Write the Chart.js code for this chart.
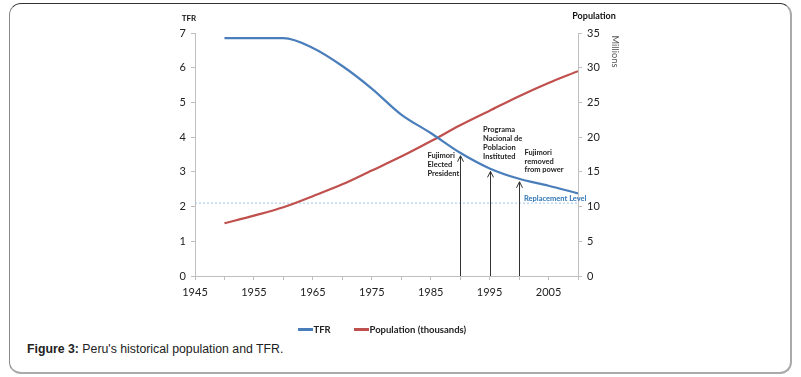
<!DOCTYPE html>
<html>
<head>
<meta charset="utf-8">
<script src="https://cdn.jsdelivr.net/npm/chart.js@4.4.1/dist/chart.umd.min.js"></script>
<style>
  html, body { margin: 0; padding: 0; background: #fff; }
  body { width: 801px; height: 377px; position: relative; overflow: hidden; }
  #frame {
    position: absolute; left: 9px; top: 3px; width: 780px; height: 368px;
    border-top: 1px solid #333; border-left: 1px solid #888;
    border-right: 2px solid #aaa; border-bottom: 2px solid #aaa;
    border-radius: 12px; box-sizing: content-box;
  }
  #caption {
    position: absolute; left: 27px; top: 342px;
    font-family: "Liberation Sans", Arial, sans-serif; font-size: 12.3px; color: #222;
  }
  #c { position: absolute; left: 0; top: 0; }
</style>
</head>
<body>
<div id="frame"></div>
<div id="caption"><b>Figure 3:</b> Peru's historical population and TFR.</div>
<canvas id="c" width="801" height="377"></canvas>
<script>
// ---- data ----
const YEARS = [1950, 1955, 1960, 1965, 1970, 1975, 1980, 1985, 1990, 1995, 2000, 2005, 2010];
const TFR = [6.85, 6.85, 6.85, 6.57, 6.05, 5.40, 4.65, 4.12, 3.55, 3.10, 2.80, 2.60, 2.38];
const POPULATION_MILLIONS = [7.6, 8.7, 9.9, 11.5, 13.2, 15.2, 17.2, 19.4, 21.7, 23.8, 25.9, 27.8, 29.5];
const REPLACEMENT_LEVEL = 2.1;
const X_RANGE = [1945, 2010];
const EVENT_YEARS = [1990, 1995, 2000];
const EVENT_LABELS = [
  ["Fujimori", "Elected", "President"],
  ["Programa", "Nacional de", "Poblacion", "Instituted"],
  ["Fujimori", "removed", "from power"]
];
const SERIES_NAMES = ["TFR", "Population (thousands)"];

// ---- styles ----
const BLUE = "#4a7ebb", RED = "#c0504d";
const FONT = "Lato, 'Open Sans', sans-serif";
const AXIS_GRAY = "#bfbfbf";
const eventTextOffsets = [{dx: -33, y: 156}, {dx: -7.5, y: 130}, {dx: 5, y: 152.5}];

const pts = (vals) => YEARS.map((y, i) => ({x: y, y: vals[i]}));

const annotate = {
  id: "annotate",
  afterDatasetsDraw(chart) {
    const ctx = chart.ctx;
    const xs = chart.scales.x, yl = chart.scales.y;
    ctx.save();
    // arrows
    ctx.strokeStyle = "#333"; ctx.lineWidth = 1;
    EVENT_YEARS.forEach((yr0, i) => {
      const idx = YEARS.indexOf(yr0);
      const x = Math.round(xs.getPixelForValue(yr0)) + 0.5;
      const yb = yl.getPixelForValue(0);
      const yt = yl.getPixelForValue(TFR[idx]) + 3;
      ctx.beginPath(); ctx.moveTo(x, yb); ctx.lineTo(x, yt); ctx.stroke();
      ctx.beginPath(); ctx.moveTo(x - 3, yt + 6); ctx.lineTo(x, yt); ctx.lineTo(x + 3, yt + 6); ctx.stroke();
      // labels
      ctx.fillStyle = "#222"; ctx.font = "bold 7.5px " + FONT;
      ctx.textAlign = "left"; ctx.textBaseline = "middle";
      const o = eventTextOffsets[i];
      EVENT_LABELS[i].forEach((t, k) => ctx.fillText(t, x + o.dx, o.y + k * 8.7));
    });
    // replacement label
    ctx.fillStyle = "#2e75b6"; ctx.font = "bold 7.5px " + FONT;
    ctx.textAlign = "left"; ctx.textBaseline = "middle";
    ctx.fillText("Replacement Level", 524, 198.5);
    // axis titles
    ctx.fillStyle = "#111"; ctx.font = "bold 8px " + FONT; ctx.textAlign = "center";
    ctx.fillText("TFR", 189, 18);
    ctx.font = "bold 9px " + FONT;
    ctx.fillText("Population", 594, 16);
    ctx.save();
    ctx.translate(615, 51.5); ctx.rotate(Math.PI / 2);
    ctx.fillStyle = "#555"; ctx.font = "9.3px " + FONT;
    ctx.fillText("Millions", 0, 0);
    ctx.restore();
    // legend
    const leg = [{x: 298, c: BLUE}, {x: 354, c: RED}];
    ctx.font = "bold 9.5px " + FONT; ctx.textAlign = "left"; ctx.fillStyle = "#222";
    leg.forEach((l, i) => {
      ctx.strokeStyle = chart.data.datasets[i].borderColor; ctx.lineWidth = 3;
      ctx.beginPath(); ctx.moveTo(l.x, 329.5); ctx.lineTo(l.x + 15, 329.5); ctx.stroke();
      ctx.fillText(chart.data.datasets[i].label, l.x + 15.5, 329.5);
    });
    ctx.restore();
  }
};

new Chart(document.getElementById("c"), {
  type: "line",
  data: {
    datasets: [
      {label: SERIES_NAMES[0], data: pts(TFR), yAxisID: "y", borderColor: BLUE, borderWidth: 2.2,
       pointRadius: 0, tension: 0.3, cubicInterpolationMode: "monotone"},
      {label: SERIES_NAMES[1], data: pts(POPULATION_MILLIONS), yAxisID: "y1", borderColor: RED, borderWidth: 2.2,
       pointRadius: 0, tension: 0.3, cubicInterpolationMode: "monotone"},
      {label: "Replacement Level", data: [{x: X_RANGE[0], y: REPLACEMENT_LEVEL}, {x: X_RANGE[1], y: REPLACEMENT_LEVEL}],
       yAxisID: "y", borderColor: "#9dc3e6", borderWidth: 1, borderDash: [2, 2], pointRadius: 0}
    ]
  },
  options: {
    responsive: false, animation: false,
    layout: {padding: {left: 150, right: 178, top: 33, bottom: 71}},
    plugins: {legend: {display: false}, tooltip: {enabled: false}},
    scales: {
      x: {
        type: "linear", min: X_RANGE[0], max: X_RANGE[1],
        afterFit: s => { s.height = 30; },
        border: {color: AXIS_GRAY},
        grid: {drawOnChartArea: false, tickLength: 4, color: AXIS_GRAY},
        ticks: {stepSize: 5, padding: 6, maxRotation: 0, autoSkip: false, color: "#222",
                font: {family: FONT, size: 11},
                callback: v => ((v - X_RANGE[0]) % 10 === 0 ? String(v) : "")}
      },
      y: {
        position: "left", min: 0, max: 7,
        afterFit: s => { s.width = 45; },
        border: {color: AXIS_GRAY},
        grid: {drawOnChartArea: false, tickLength: 4, color: AXIS_GRAY},
        ticks: {stepSize: 1, padding: 5, color: "#222", font: {family: FONT, size: 11}}
      },
      y1: {
        position: "right", min: 0, max: 35,
        afterFit: s => { s.width = 45; },
        border: {color: AXIS_GRAY},
        grid: {drawOnChartArea: false, tickLength: 4, color: AXIS_GRAY},
        ticks: {stepSize: 5, padding: 5, color: "#222", font: {family: FONT, size: 11}}
      }
    }
  },
  plugins: [annotate]
});
</script>
</body>
</html>
